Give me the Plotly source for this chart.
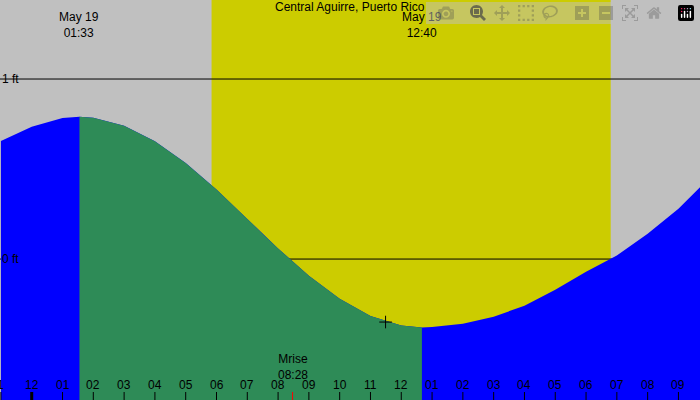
import plotly.graph_objects as go

# tide heights (ft), hours from midnight May 19
hours = [-1, 0, 1, 1.55, 2, 3, 4, 5, 6, 7, 8, 9, 10, 11, 12, 12.67,
         13, 14, 15, 16, 17, 18, 19, 20, 21, 22]
heights = [0.656, 0.735, 0.783, 0.79, 0.785, 0.741, 0.655, 0.533, 0.386, 0.223,
           0.059, -0.093, -0.221, -0.316, -0.369, -0.38,
           -0.378, -0.36, -0.32, -0.26, -0.17, -0.07, 0.02, 0.14, 0.28, 0.45]
high_t, low_t = 1.55, 12.67
sunrise, sunset = 5.84, 18.8
moonrise = 8.47
now_t, now_h = 11.49, -0.35
tick_hours = list(range(-1, 22))
tick_labels = ['1', '12'] + ['%02d' % h for h in range(1, 13)] + ['%02d' % h for h in range(1, 10)]

x0, x1 = -1.03, 21.7
y0, y1 = -0.783, 1.439

fig = go.Figure()

# blue fill under whole curve
fig.add_trace(go.Scatter(
    x=[hours[0]] + hours + [hours[-1]],
    y=[y0] + heights + [y0],
    fill='toself', fillcolor='#0000ff', mode='lines',
    line=dict(width=0), hoverinfo='skip'))

# green for the falling tide
gx = [t for t in hours if high_t <= t <= low_t]
gy = [h for t, h in zip(hours, heights) if high_t <= t <= low_t]
fig.add_trace(go.Scatter(
    x=[gx[0]] + gx + [gx[-1]],
    y=[y0] + gy + [y0],
    fill='toself', fillcolor='#2e8b57', mode='lines',
    line=dict(width=0), hoverinfo='skip'))

fig.add_trace(go.Scatter(
    x=[now_t], y=[now_h], mode='markers',
    marker=dict(symbol='cross-thin', size=9, line=dict(width=1, color='black')),
    hoverinfo='skip'))

shapes = [
    dict(type='rect', x0=sunrise, x1=sunset, y0=y0, y1=y1, fillcolor='#cccc00',
         line_width=0, layer='below'),
    dict(type='line', x0=x0, x1=x1, y0=1, y1=1, line=dict(color='black', width=1), layer='below'),
    dict(type='line', x0=x0, x1=x1, y0=0, y1=0, line=dict(color='black', width=1), layer='below'),
]
for t in tick_hours:
    shapes.append(dict(type='line', xref='x', yref='paper', x0=t, x1=t, y0=0, y1=0.02,
                       line=dict(color='black', width=3 if t == 0 else 1)))
shapes.append(dict(type='line', xref='x', yref='paper', x0=moonrise, x1=moonrise,
                   y0=0, y1=0.02, line=dict(color='red', width=1)))

font = dict(family='Liberation Sans, Arial', size=12, color='black')
ann = []
for t, lab in zip(tick_hours, tick_labels):
    ann.append(dict(x=t, y=0.0375, xref='x', yref='paper', text=lab, showarrow=False,
                    font=font, yanchor='middle'))
ann += [
    dict(x=0.5, y=1 - 7 / 400, xref='paper', yref='paper', text='Central Aguirre, Puerto Rico',
         showarrow=False, font=font, yanchor='middle'),
    dict(x=high_t, y=1 - 25 / 400, xref='x', yref='paper', text='May 19<br>01:33',
         showarrow=False, font=font, yanchor='middle'),
    dict(x=low_t, y=1 - 25 / 400, xref='x', yref='paper', text='May 19<br>12:40',
         showarrow=False, font=font, yanchor='middle'),
    dict(x=moonrise, y=1 - 367 / 400, xref='x', yref='paper', text='Mrise<br>08:28',
         showarrow=False, font=font, yanchor='middle'),
    dict(x=0, y=1, xref='paper', yref='y', text='1 ft', showarrow=False, font=font,
         xanchor='left'),
    dict(x=0, y=0, xref='paper', yref='y', text='0 ft', showarrow=False, font=font,
         xanchor='left'),
]

fig.update_layout(
    width=700, height=400, margin=dict(l=0, r=0, t=0, b=0),
    paper_bgcolor='#c0c0c0', plot_bgcolor='#c0c0c0', showlegend=False,
    xaxis=dict(range=[x0, x1], visible=False),
    yaxis=dict(range=[y0, y1], visible=False),
    shapes=shapes, annotations=ann,
)

fig.write_html("out.html", post_script="document.body.style.margin='0';")
